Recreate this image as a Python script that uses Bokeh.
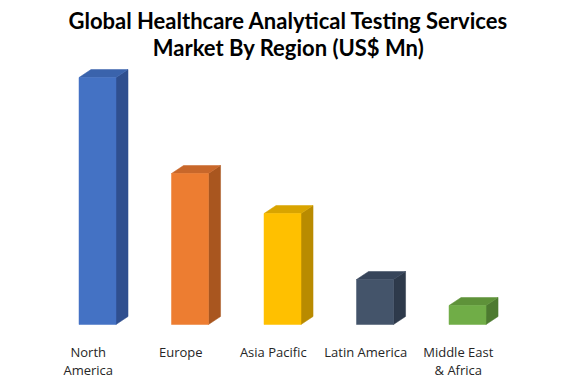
from bokeh.plotting import figure
from bokeh.models import Range1d, Label
from bokeh.core.properties import value
from bokeh.embed import file_html
from bokeh.resources import INLINE

# ---- data ----
regions = ["North\nAmerica", "Europe", "Asia Pacific", "Latin America", "Middle East\n& Africa"]
market_size = [247, 151, 111, 45, 19]  # US$ Mn (relative)
front_colors = ["#4472C4", "#ED7D31", "#FFC000", "#44546A", "#70AD47"]
side_colors = ["#2F4F8F", "#A9561F", "#B98B00", "#2E3A4B", "#4D7A30"]
top_colors = ["#3A63AC", "#C8672A", "#D9A400", "#37455A", "#5E9239"]
title_lines = ["Global Healthcare Analytical Testing Services", "Market By Region (US$ Mn)"]

W, H = 576, 384
p = figure(width=W, height=H, output_backend="svg", toolbar_location=None,
           x_range=Range1d(-1.0486, 5.178), y_range=Range1d(-60, 324),
           min_border=0, min_border_left=0, min_border_right=0,
           min_border_top=0, min_border_bottom=0)
p.axis.visible = False
p.grid.visible = False
p.outline_line_color = None
p.background_fill_color = "white"
p.border_fill_color = "white"

half_w = 0.2
dx = 0.13
dy = 8

side_xs, side_ys, top_xs, top_ys = [], [], [], []
for i, v in enumerate(market_size):
    xl, xr = i - half_w, i + half_w
    side_xs.append([xr, xr + dx, xr + dx, xr])
    side_ys.append([0, dy, v + dy, v])
    top_xs.append([xl, xl + dx, xr + dx, xr])
    top_ys.append([v, v + dy, v + dy, v])

p.patches(side_xs, side_ys, fill_color=side_colors, line_color=side_colors, line_width=0.5)
p.patches(top_xs, top_ys, fill_color=top_colors, line_color=top_colors, line_width=0.5)
p.vbar(x=list(range(len(regions))), top=market_size, bottom=0, width=2 * half_w,
       fill_color=front_colors, line_color=front_colors, line_width=0.5)

# category labels
line1 = [r.split("\n")[0] for r in regions]
xs1 = [i - 0.1 for i in range(len(regions))]
p.text(x=xs1, y=[-27] * len(regions), text=line1, text_align="center",
       text_baseline="alphabetic", text_font=value("Open Sans"), text_font_size="13px",
       text_color="#262626")
line2_idx = [i for i, r in enumerate(regions) if "\n" in r]
p.text(x=[i - 0.1 for i in line2_idx], y=[-45] * len(line2_idx),
       text=[regions[i].split("\n")[1] for i in line2_idx], text_align="center",
       text_baseline="alphabetic", text_font=value("Open Sans"), text_font_size="13px",
       text_color="#262626")

# title
for t, yb in zip(title_lines, [364, 337]):
    p.add_layout(Label(x=288, y=yb, x_units="screen", y_units="screen", text=t,
                       text_align="center", text_baseline="alphabetic",
                       text_font="Lato", text_font_style="bold", text_font_size="22px",
                       text_color="#000000"))

open("out.html", "w").write(file_html(p, INLINE))
